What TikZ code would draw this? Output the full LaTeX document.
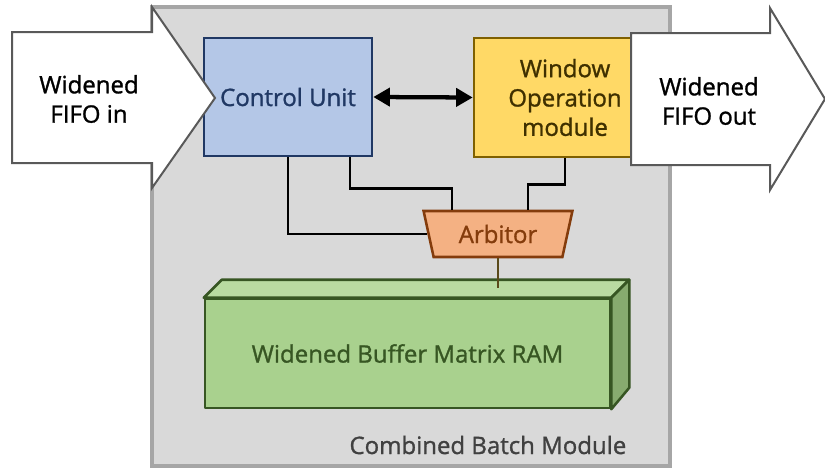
\documentclass[tikz,border=0pt]{standalone}
\usepackage{fontspec}
\setmainfont{Open Sans}[UprightFeatures={FakeBold=1.2}]
\usetikzlibrary{arrows.meta, positioning, shapes.geometric, calc}
\definecolor{framegray}{HTML}{A6A6A6}
\definecolor{modulefill}{HTML}{D9D9D9}
\definecolor{arrowgray}{HTML}{595959}
\definecolor{cublue}{HTML}{B4C7E7}
\definecolor{cudark}{HTML}{203864}
\definecolor{womyellow}{HTML}{FFD966}
\definecolor{womdark}{HTML}{7F6000}
\definecolor{womtext}{HTML}{3F3000}
\definecolor{arborange}{HTML}{F4B183}
\definecolor{arbdark}{HTML}{843C0C}
\definecolor{ramgreen}{HTML}{A9D18E}
\definecolor{ramtop}{HTML}{B9DBA1}
\definecolor{ramside}{HTML}{87AB6F}
\definecolor{ramdark}{HTML}{375623}
\definecolor{linkbrown}{HTML}{5A4A1A}
\definecolor{titlegray}{HTML}{404040}
\def\pu{0.75pt}

\begin{document}
\begin{tikzpicture}[
    x=0.75pt, y=-0.75pt,
    font=\fontsize{18}{22}\selectfont,
    % ── shared styles ──
    module frame/.style={draw=framegray, line width=3pt, fill=modulefill},
    module title/.style={text=titlegray},
    fifo arrow/.style={draw=arrowgray, line width=1.5pt, fill=white},
    fifo label/.style={align=center, text=black},
    cu box/.style={draw=cudark, line width=1.9pt, fill=cublue, text=cudark,
        minimum width=168*\pu, minimum height=118*\pu},
    wom box/.style={draw=womdark, line width=1.9pt, fill=womyellow, text=womtext,
        align=center, minimum width=182*\pu, minimum height=119*\pu},
    arb box/.style={trapezium, trapezium angle=104, trapezium stretches=true,
        draw=arbdark, line width=1.9pt, fill=arborange, text=arbdark,
        minimum width=150*\pu, minimum height=46*\pu},
    ram face/.style={draw=ramdark, line width=1.9pt, line join=round},
    ram box/.style={ram face, fill=ramgreen, text=ramdark,
        minimum width=405*\pu, minimum height=109*\pu},
    wire/.style={draw=black, line width=2.1pt},
    ram link/.style={draw=linkbrown, line width=2.1pt},
    dbl arrow/.style={{Triangle[length=12.5pt, width=13.5pt]}-{Triangle[length=12.5pt, width=13.5pt]},
        draw=black, line width=3.2pt},
]
\useasboundingbox (0,0) rectangle (825,468);

% ══════════════════════════════════════════════════════════════════════
%  MODULE FRAME + TITLE
% ══════════════════════════════════════════════════════════════════════
\draw[module frame] (152,7) rectangle (670,466);
\node[module title, anchor=east] (cbmtitle) at (631,445) {Combined Batch Module};

% ══════════════════════════════════════════════════════════════════════
%  BLOCKS
% ══════════════════════════════════════════════════════════════════════
\node[cu box] (cu) at (288,97) {Control Unit};
\node[wom box] (wom) at (565,97.5) {Window\\Operation\\module};
\node[arb box] (arb) at (498,234) {Arbitor};

% RAM drawn as a box with top and side faces
\node[ram box] (ram) at (407.5,353.5) {Widened Buffer Matrix RAM};
\draw[ram face, fill=ramtop] (ram.north west) -- ++(18,-18)
    -- ($(ram.north east)+(18,-18)$) -- (ram.north east) -- cycle;
\draw[ram face, fill=ramside] (ram.north east) -- ++(18,-18)
    -- ++(0,108) -- (ram.south east) -- cycle;

% ══════════════════════════════════════════════════════════════════════
%  CONNECTIONS
% ══════════════════════════════════════════════════════════════════════
\draw[dbl arrow] (cu.east) -- (wom.west);
\draw[wire] (cu.south) |- (arb.west);
\draw[wire] ([xshift=46.5pt]cu.south) -- ++(0,31) -| ([xshift=-34.5pt]arb.north);
\draw[wire] (wom.south) -- ++(0,26) -| ([xshift=22.5pt]arb.north);
\draw[ram link] (arb.south) -- ([yshift=7.5pt]arb.south |- ram.north);

% ══════════════════════════════════════════════════════════════════════
%  FIFO ARROWS  (drawn over the block edges)
% ══════════════════════════════════════════════════════════════════════
\draw[fifo arrow] (12,32) -- (152,32) -- (152,7) -- (215,98)
    -- (152,188) -- (152,163) -- (12,163) -- cycle;
\node[fifo label] (fifoin) at (89,99) {Widened\\FIFO in};

\draw[fifo arrow] (631,33) -- (770,33) -- (770,8) -- (825,99)
    -- (770,190) -- (770,165) -- (631,165) -- cycle;
\node[fifo label] (fifoout) at (709,101) {Widened\\FIFO out};

\end{tikzpicture}
\end{document}
